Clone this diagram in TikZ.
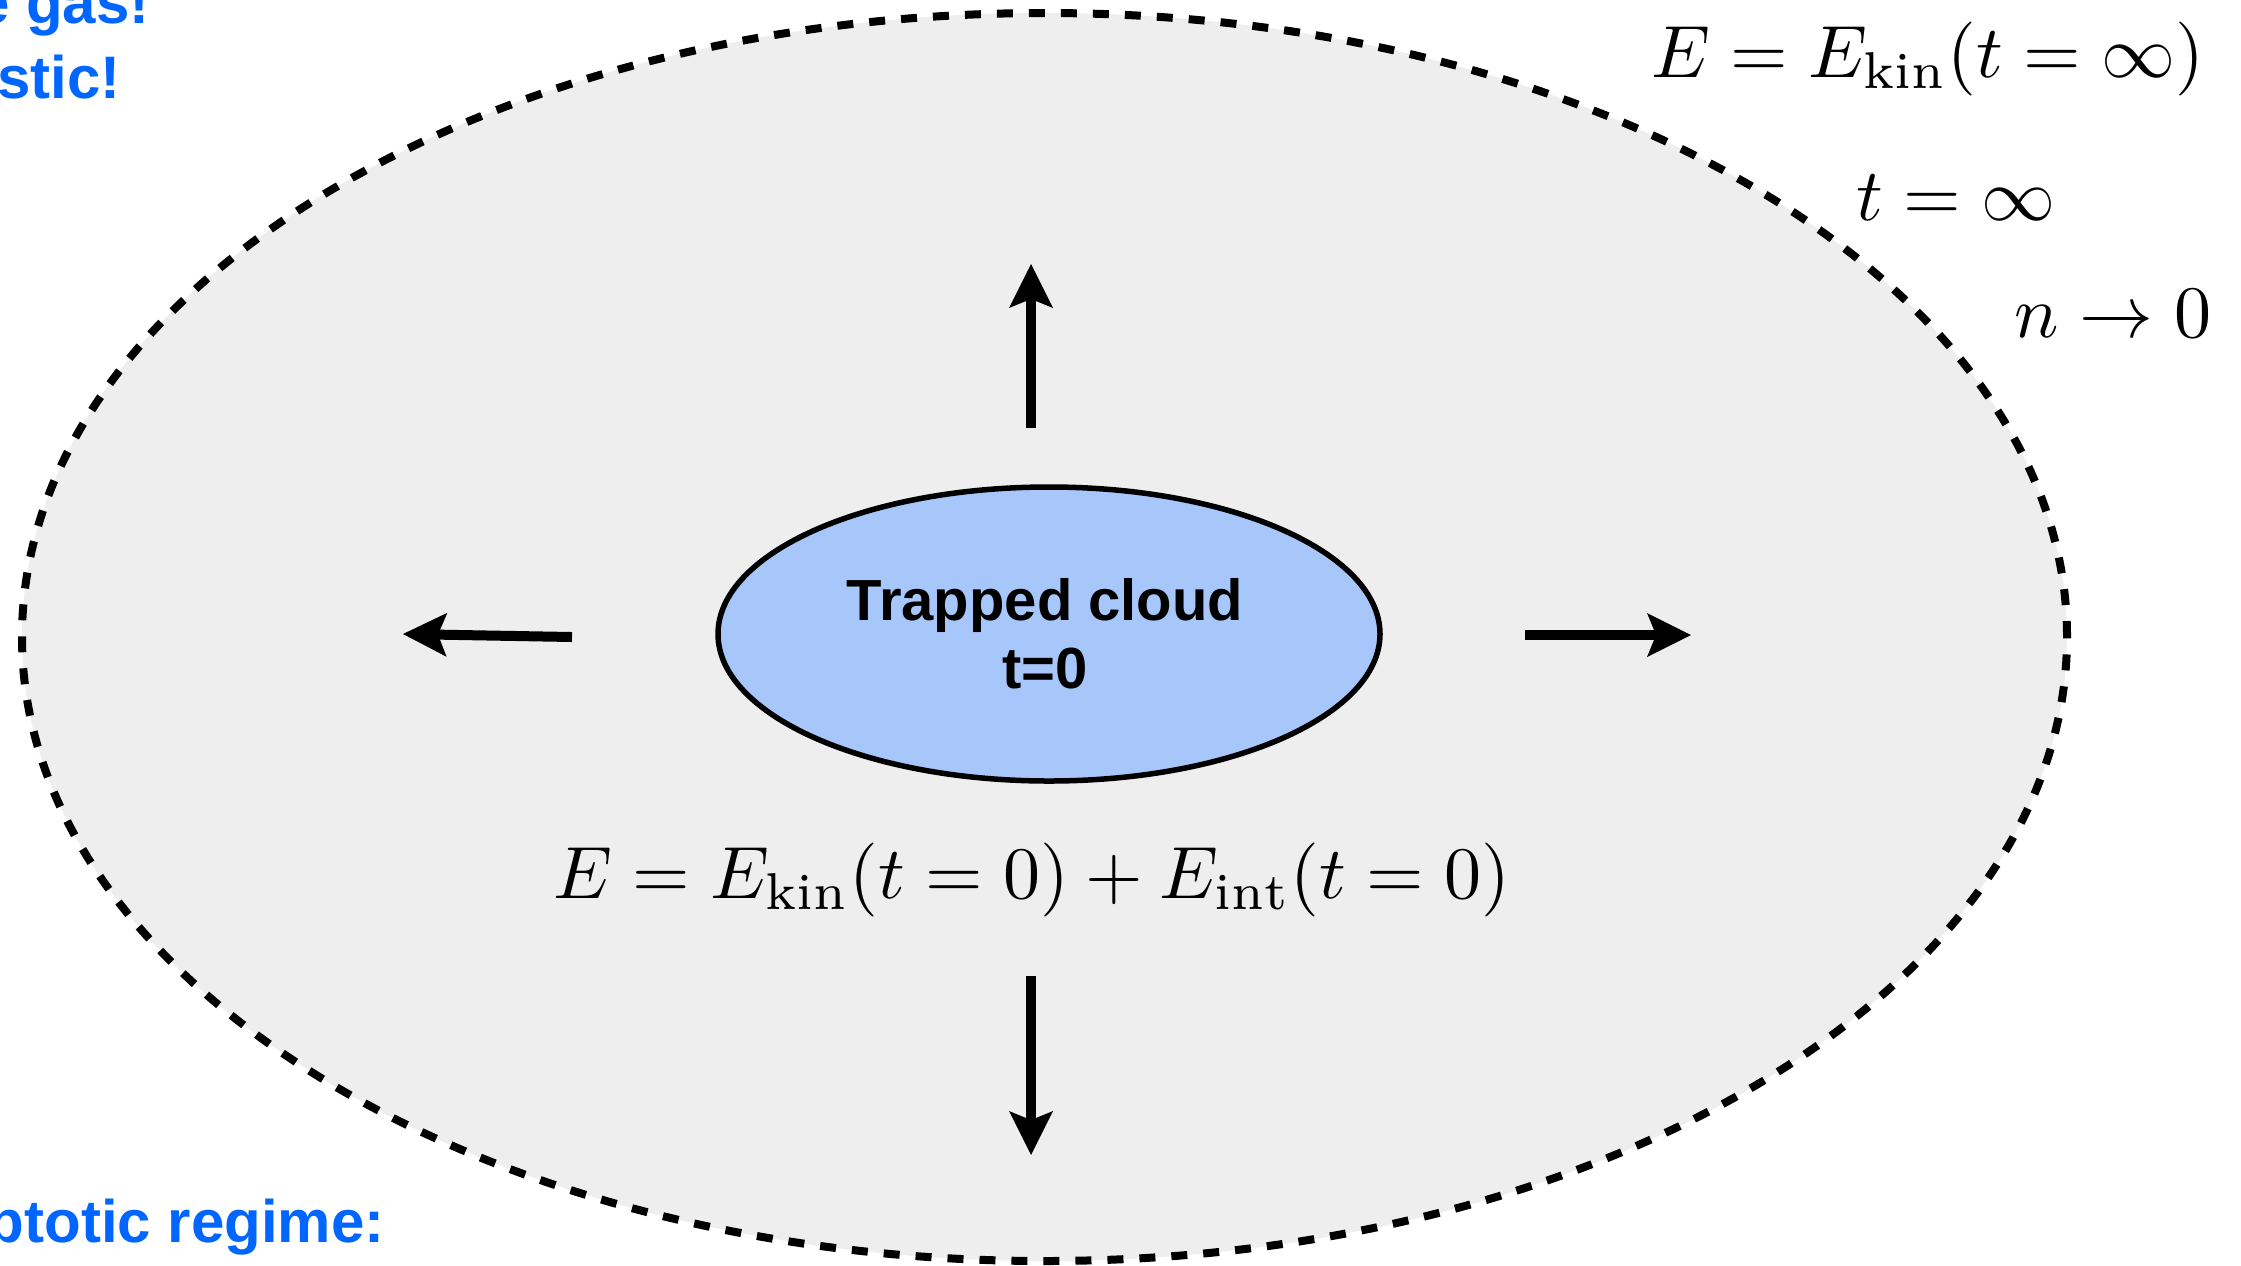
\documentclass[tikz,border=0pt]{standalone}
\usepackage{graphicx}
\usepackage{fontspec}
\setsansfont{Liberation Sans}
\usetikzlibrary{arrows.meta,shapes.geometric}
\definecolor{outerfill}{RGB}{238,238,238}
\definecolor{cloudfill}{RGB}{167,198,250}
\definecolor{noteblue}{RGB}{0,102,255}
\newcommand{\bigmath}[1]{\scalebox{3.7}{$#1$}}
\begin{document}
\begin{tikzpicture}[x=0.5pt,y=-0.5pt,
  mathlabel/.style={inner sep=0pt, anchor=base},
  note/.style={inner sep=0pt, anchor=base east, text=noteblue, font=\sffamily\bfseries\fontsize{30}{36}\selectfont},
  flow/.style={line width=5pt, -{Stealth[length=22pt,width=22pt,inset=4.5pt,line width=0pt]}},
  region/.style={ellipse, draw=black, fill=outerfill, line width=4pt, dash pattern=on 8pt off 8pt, inner sep=0pt},
  cloudshape/.style={ellipse, draw=black, fill=cloudfill, line width=2.75pt, inner sep=0pt},
  cloudtext/.style={inner sep=0pt, align=center, font=\sffamily\bfseries\fontsize{29}{34}\selectfont},
]
\useasboundingbox (0,0) rectangle (2241,1265);
\clip (0,0) rectangle (2241,1265);
\fill[white] (0,0) rectangle (2241,1265);

% expanding region
\node[region, minimum width=1022.5pt, minimum height=624pt] (outer) at (1044.5,637) {};

% trapped cloud
\node[cloudshape, minimum width=331pt, minimum height=147pt] (cloud) at (1049,634) {};
\node[cloudtext] (cloudlabel) at (1045,634) {Trapped cloud\\t=0};

% arrows
\coordinate (upS) at (1031,428);   \coordinate (upE) at (1031,264);
\coordinate (dnS) at (1031,976);   \coordinate (dnE) at (1031,1155);
\coordinate (lfS) at (572,637);    \coordinate (lfE) at (403,634);
\coordinate (rtS) at (1525,635);   \coordinate (rtE) at (1691,635);
\draw[flow] (upS) -- (upE);
\draw[flow] (dnS) -- (dnE);
\draw[flow] (lfS) -- (lfE);
\draw[flow] (rtS) -- (rtE);

% formulas
\node[mathlabel] (Einit) at (1032,898) {\bigmath{E = E_{\mathrm{kin}}(t=0) + E_{\mathrm{int}}(t=0)}};
\node[mathlabel] (Efinal) at (1928,77) {\bigmath{E = E_{\mathrm{kin}}(t=\infty)}};
\node[mathlabel] (tinf) at (1956,220) {\bigmath{t = \infty}};
\node[mathlabel] (nzero) at (2113,337) {\bigmath{n \to 0}};

% cut-off blue notes
\node[note] (gas) at (150,23) {e gas!};
\node[note] (stic) at (121,98) {stic!};
\node[note] (regime) at (385,1242) {ptotic regime:};
\end{tikzpicture}
\end{document}
